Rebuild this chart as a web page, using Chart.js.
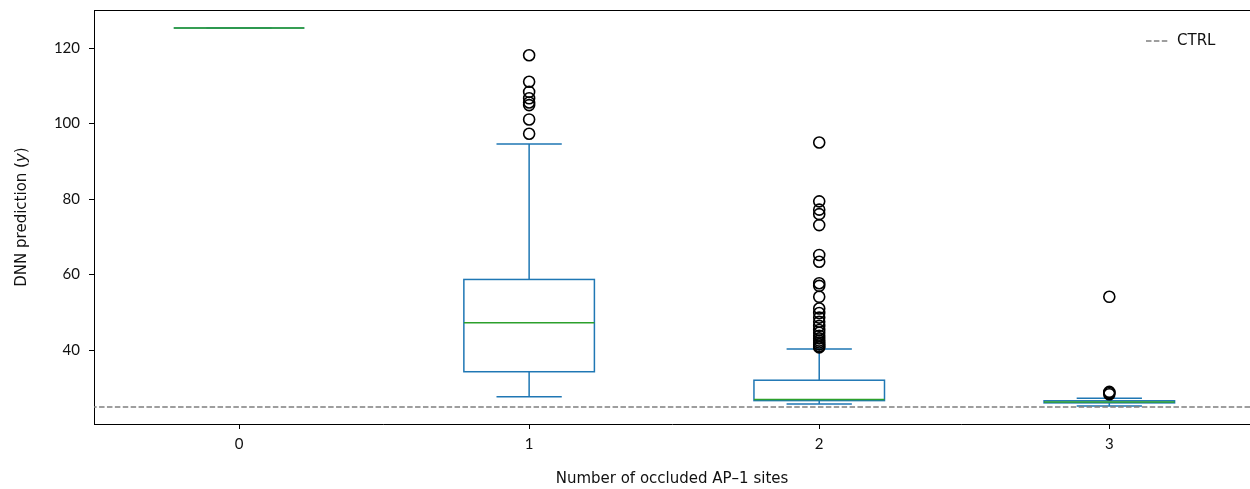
<!DOCTYPE html>
<html>
<head>
<meta charset="utf-8">
<script src="https://cdn.jsdelivr.net/npm/chart.js@4.4.1/dist/chart.umd.min.js"></script>
<style>
    html, body { margin: 0; padding: 0; background: #fff; }
    #wrap { width: 1250px; height: 489px; position: relative; }
</style>
</head>
<body>
<div id="wrap"><canvas id="boxChart"></canvas></div>
<script>
// Box plot data
const categories = [0, 1, 2, 3];
const whiskerLow = [125.3, 27.6, 25.7, 25.2];
const q1 = [125.3, 34.25, 26.6, 26.0];
const medians = [125.3, 47.2, 26.9, 26.25];
const q3 = [125.3, 58.7, 32.0, 26.55];
const whiskerHigh = [125.3, 94.6, 40.3, 27.2];
const outliers1 = [118.1, 111.1, 108.4, 106.7, 105.6, 104.9, 101.1, 97.3];
const outliers2 = [95.0, 79.4, 77.2, 76.0, 73.1, 65.2, 63.4, 57.7, 57.0, 54.1, 51.0,
    49.8, 48.6, 47.5, 46.4, 45.3, 44.6, 43.8, 43.1, 42.5, 42.0, 41.5, 41.0, 40.7];
const outliers3 = [54.1, 28.9, 28.6, 28.3];
const ctrlValue = 24.9;
const xTicks = [0, 1, 2, 3];
const yTicks = [40, 60, 80, 100, 120];

const TICK_FONT = 'Lato';
const LABEL_FONT = 'DejaVu Sans';
const boxWidth = 0.45;

function outlierPoints() {
    const pts = [];
    outliers1.forEach(v => pts.push({ x: categories[1], y: v }));
    outliers2.forEach(v => pts.push({ x: categories[2], y: v }));
    outliers3.forEach(v => pts.push({ x: categories[3], y: v }));
    return pts;
}

// Draws boxes, whiskers and medians from the arrays through the chart scales
const boxPlugin = {
    id: 'boxes',
    beforeDatasetsDraw(chart) {
        const ctx = chart.ctx;
        const xs = chart.scales.x;
        const ys = chart.scales.y;
        ctx.save();
        ctx.lineCap = 'butt';
        categories.forEach((c, i) => {
            const px = xs.getPixelForValue(c);
            const half = xs.getPixelForValue(c + boxWidth / 2) - px;
            const yq1 = ys.getPixelForValue(q1[i]);
            const yq3 = ys.getPixelForValue(q3[i]);
            const ylo = ys.getPixelForValue(whiskerLow[i]);
            const yhi = ys.getPixelForValue(whiskerHigh[i]);
            const ymed = ys.getPixelForValue(medians[i]);

            ctx.strokeStyle = '#1f77b4';
            ctx.lineWidth = 1.5;
            ctx.strokeRect(px - half, yq3, 2 * half, yq1 - yq3);
            ctx.beginPath();
            ctx.moveTo(px, yq3); ctx.lineTo(px, yhi);
            ctx.moveTo(px, yq1); ctx.lineTo(px, ylo);
            ctx.moveTo(px - half / 2, yhi); ctx.lineTo(px + half / 2, yhi);
            ctx.moveTo(px - half / 2, ylo); ctx.lineTo(px + half / 2, ylo);
            ctx.stroke();

            ctx.strokeStyle = '#2ca02c';
            ctx.beginPath();
            ctx.moveTo(px - half, ymed); ctx.lineTo(px + half, ymed);
            ctx.stroke();
        });
        ctx.restore();
    },
    afterDraw(chart) {
        const ctx = chart.ctx;
        const area = chart.chartArea;
        ctx.save();
        // top spine
        ctx.strokeStyle = '#000';
        ctx.lineWidth = 1;
        ctx.beginPath();
        ctx.moveTo(area.left, area.top + 0.5);
        ctx.lineTo(area.right, area.top + 0.5);
        ctx.stroke();

        // legend
        const ly = area.top + 31;
        ctx.strokeStyle = '#7f7f7f';
        ctx.lineWidth = 1.5;
        ctx.setLineDash([5.5, 2.4]);
        ctx.beginPath();
        ctx.moveTo(area.right - 104, ly);
        ctx.lineTo(area.right - 82, ly);
        ctx.stroke();
        ctx.setLineDash([]);
        ctx.fillStyle = '#111';
        ctx.font = '15px ' + LABEL_FONT;
        ctx.textBaseline = 'middle';
        ctx.textAlign = 'left';
        ctx.fillText('CTRL', area.right - 73, ly);

        // y axis title with italic y
        const cy = (area.top + area.bottom) / 2;
        ctx.translate(22, cy);
        ctx.rotate(-Math.PI / 2);
        const parts = [['DNN prediction (', 'normal'], ['y', 'italic'], [')', 'normal']];
        let total = 0;
        parts.forEach(p => {
            ctx.font = p[1] + ' 15px ' + LABEL_FONT;
            total += ctx.measureText(p[0]).width;
        });
        let x0 = -total / 2;
        parts.forEach(p => {
            ctx.font = p[1] + ' 15px ' + LABEL_FONT;
            ctx.fillText(p[0], x0, 0);
            x0 += ctx.measureText(p[0]).width;
        });
        ctx.restore();
    }
};

new Chart(document.getElementById('boxChart'), {
    type: 'scatter',
    data: {
        datasets: [{
            label: 'outliers',
            data: outlierPoints(),
            pointStyle: 'circle',
            pointRadius: 5.5,
            pointBorderWidth: 1.6,
            pointBorderColor: '#000',
            pointBackgroundColor: 'rgba(0,0,0,0)',
            pointHoverRadius: 5.5
        }, {
            type: 'line',
            label: 'CTRL',
            data: [{ x: -1, y: ctrlValue }, { x: 4, y: ctrlValue }],
            borderColor: '#7f7f7f',
            borderWidth: 1.5,
            borderDash: [5.5, 2.4],
            pointRadius: 0,
            fill: false
        }]
    },
    options: {
        responsive: true,
        maintainAspectRatio: false,
        animation: false,
        layout: { autoPadding: false, padding: { top: 10, left: 0, right: 0, bottom: 0 } },
        plugins: {
            legend: { display: false },
            tooltip: { enabled: false }
        },
        scales: {
            x: {
                type: 'linear',
                min: -0.5,
                max: 3.485,
                afterBuildTicks: scale => { scale.ticks = xTicks.map(v => ({ value: v })); },
                afterFit: scale => {
                    scale.height = 65;
                    scale.paddingLeft = 0;
                    scale.paddingRight = 0;
                },
                ticks: {
                    color: '#111',
                    font: { family: TICK_FONT, size: 15 },
                    padding: 6,
                    maxRotation: 0
                },
                grid: {
                    drawOnChartArea: false,
                    tickLength: 5,
                    color: '#000',
                    tickColor: '#000'
                },
                border: { display: true, color: '#000', width: 1 },
                title: {
                    display: true,
                    text: 'Number of occluded AP\u20131 sites',
                    color: '#111',
                    font: { family: LABEL_FONT, size: 15 },
                    padding: { top: 0, bottom: 1 }
                }
            },
            y: {
                min: 20.4,
                max: 130.1,
                afterBuildTicks: scale => { scale.ticks = yTicks.map(v => ({ value: v })); },
                afterFit: scale => {
                    scale.width = 94;
                    scale.paddingTop = 0;
                    scale.paddingBottom = 0;
                },
                ticks: {
                    color: '#111',
                    font: { family: TICK_FONT, size: 15 },
                    padding: 9
                },
                grid: {
                    drawOnChartArea: false,
                    tickLength: 5,
                    color: '#000',
                    tickColor: '#000'
                },
                border: { display: true, color: '#000', width: 1 }
            }
        }
    },
    plugins: [boxPlugin]
});
</script>
</body>
</html>
